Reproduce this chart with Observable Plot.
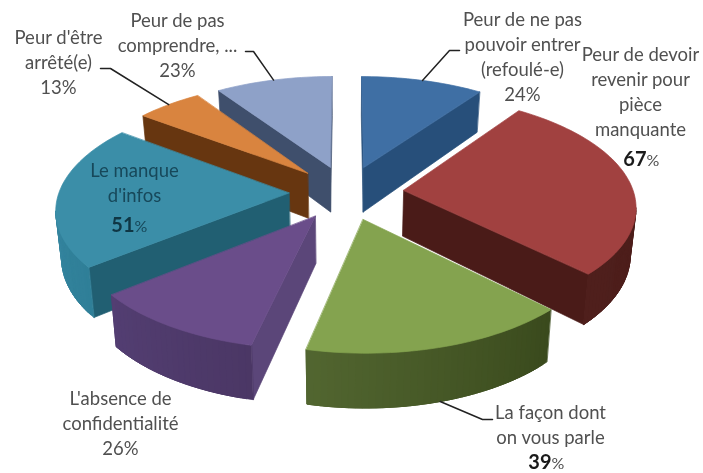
<!DOCTYPE html>
<html><head><meta charset="utf-8">
<script src="https://cdn.jsdelivr.net/npm/d3@7"></script>
<script src="https://cdn.jsdelivr.net/npm/@observablehq/plot@0.6"></script>
<style>html,body{margin:0;padding:0;background:#fff}svg{display:block;filter:blur(.45px)}</style>
</head><body><div id="chart"></div>
<script>
// Data
const categories = ["Peur de ne pas pouvoir entrer (refoulé-e)","Peur de devoir revenir pour pièce manquante","La façon dont on vous parle","L'absence de confidentialité","Le manque d'infos","Peur d'être arrêté(e)","Peur de pas comprendre, ..."];
const values = [24,67,39,26,51,13,23];
// Colours
const topColors  = ["#3f6fa4","#a14140","#84a34f","#6a4d8a","#3b8ea8","#d9843f","#8ea1c8"];
const wallColors = ["#274f7a","#4a1b18","#3d4d20","#5b4679","#215f72","#673610","#3f4f6c"];
const rimStart   = ["#274f7a","#4a1b18","#3a4a1d","#4b3765","#2f7f98","#673610","#3f4f6c"];
const rimEnd     = ["#274f7a","#4f1f1c","#526630","#533e72","#3f90aa","#673610","#3f4f6c"];
const paintOrder = [6,0,5,4,1,3,2];
// Labels
const labelLines = [["Peur de ne pas","pouvoir entrer","(refoulé-e)","24%"],["Peur de devoir","revenir pour","pièce","manquante"],["La façon dont","on vous parle"],["L'absence de","confidentialité","26%"],["Le manque","d'infos"],["Peur d'être","arrêté(e)","13%"],["Peur de pas","comprendre, ...","23%"]];
const labelX = [522,640,550,120,134,58,177];
const labelY = [20,55,413,399,171,38,21];
const labelInk = ["#505050","#505050","#505050","#505050","#17485a","#505050","#505050"];
const boldPct = [null,"67","39",null,"51",null,null];
const boldY = [null,159,462,null,225,null,null];
const boldX = [null,646,551,null,134,null,null];
const leaderOf = [0,2,5,6];
const leaderElbow = [[[459,50],[449,50]],[[492,419],[482,419]],[[100,68],[110,68]],[[245,51],[253,51]]];

// Pie projection (perspective of an exploded tilted disc)
const cx=346, cy=192, a=230, b=108.7, p=.13, explode=.25, depth=46, shrink=.98;
const rad = d => d*Math.PI/180;
const total = d3.sum(values);
function project(mid, t, r=1, bottom=false){
  const X = explode*Math.sin(rad(mid)) + r*Math.sin(rad(t));
  const Y = -explode*Math.cos(rad(mid)) - r*Math.cos(rad(t));
  const s = 1/(1-p*Y);
  let x = cx + a*X*s, y = cy + b*Y*s;
  if (bottom){ x = cx + (x-cx)*shrink; y += depth*s; }
  return [x,y];
}
let acc = 0;
const slices = values.map((v,i)=>{const t0=acc/total*360; acc+=v; const t1=acc/total*360; return {i,t0,t1,mid:(t0+t1)/2};});

const rows = [];
let fid = 0;
function pushFace(pts,color){ fid++; pts.forEach(([x,y])=>rows.push({face:fid,x,y,color})); }
for (const k of paintOrder){
  const {i,t0,t1,mid} = slices[k];
  const n = Math.max(4,Math.ceil((t1-t0)/1.5));
  const ts = d3.range(n+1).map(j=>t0+(t1-t0)*j/n);
  const apexT = project(mid,0,0), apexB = project(mid,0,0,true);
  const topArc = ts.map(t=>project(mid,t));
  const botArc = ts.map(t=>project(mid,t,1,true));
  const wall = (pa,pb,qa,qb,c)=>{ if (qa[0]<pa[0]) pushFace([pa,qa,qb,pb],c); };
  // radial wall at start
  wall(apexT,apexB,topArc[0],botArc[0],wallColors[i]);
  // radial wall at end
  wall(topArc[n],botArc[n],apexT,apexB,wallColors[i]);
  // rim: overlapping bands so that no seam shows
  for (let j=0;j<n;j++){
    const c = d3.interpolateRgb(rimStart[i],rimEnd[i])(j/n);
    const e = Math.min(j+3,n);
    if (topArc[j+1][0]<topArc[j][0]) {
      const run=[]; const back=[];
      for (let m=j;m<=e;m++){ if (m===j || topArc[m][0]<topArc[m-1][0]) {run.push(topArc[m]); back.unshift(botArc[m]);} else break; }
      pushFace([...run,...back],c);
    }
  }
  pushFace([apexT,...topArc],topColors[i]);
}

const textRows = [];
labelLines.forEach((lines,i)=>lines.forEach((t,j)=>textRows.push({t,x:labelX[i],y:labelY[i]+j*25,ink:labelInk[i]})));
const boldRows = boldPct.map((t,i)=>({t,x:boldX[i],y:boldY[i],ink:i===4?"#0f3644":"#1a1a1a",pctInk:labelInk[i]})).filter(d=>d.t);
const leaderRows = [];
leaderOf.forEach((k,n)=>{
  const {mid}=slices[k];
  const end = k===2 ? project(mid,mid,1,true) : project(mid,mid);
  [...leaderElbow[n],end].forEach(([x,y])=>leaderRows.push({k,x,y}));
});

const chart = Plot.plot({
  width:703,height:473,margin:0,
  style:{background:"#fff",fontFamily:"Lato, 'Noto Sans', sans-serif"},
  x:{domain:[0,703],range:[0,703],axis:null},
  y:{domain:[0,473],range:[0,473],axis:null},
  color:{type:"identity"},
  marks:[
    Plot.line(rows,{x:"x",y:"y",z:"face",fill:"color",stroke:"color",strokeWidth:.7,curve:"linear-closed"}),
    Plot.line(leaderRows,{x:"x",y:"y",z:"k",stroke:"#222",strokeWidth:1.5}),
    Plot.text(textRows,{x:"x",y:"y",text:"t",fill:"ink",fontSize:18.5}),
    Plot.text(boldRows,{x:"x",y:"y",text:"t",fill:"ink",fontSize:20,fontWeight:700,textAnchor:"end"}),
    Plot.text(boldRows,{x:"x",y:d=>d.y+1,text:()=>"%",fill:"pctInk",fontSize:16,textAnchor:"start"})
  ]
});
document.getElementById("chart").append(chart);
</script></body></html>
